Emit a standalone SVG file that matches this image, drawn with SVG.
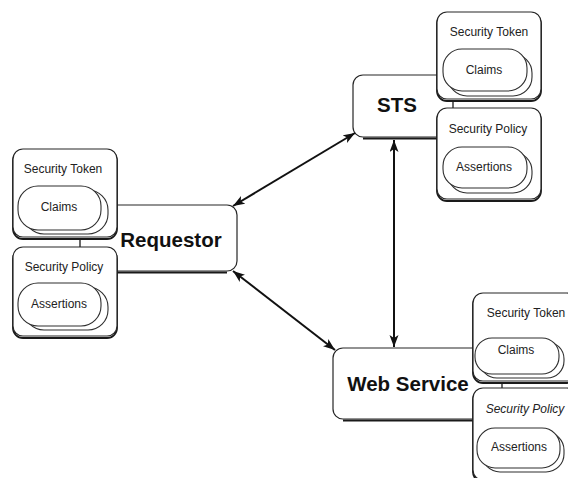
<svg xmlns="http://www.w3.org/2000/svg" width="568" height="478" viewBox="0 0 568 478">
  <style>
    .box { fill: #fff; stroke: #262626; stroke-width: 1.2; }
    .shadow { fill: #fff; stroke: #1a1a1a; stroke-width: 1.8; }
    .pill { fill: #fff; stroke: #2e2e2e; stroke-width: 1.1; }
    .title { font-family: "Liberation Sans", Arial, sans-serif; font-weight: bold; font-size: 20.5px; fill: #111; text-anchor: middle; }
    .label { font-family: "Liberation Sans", Arial, sans-serif; font-size: 12px; fill: #222; text-anchor: middle; }
    .tie { stroke: #1a1a1a; stroke-width: 1.3; fill: none; }
    .link { stroke: #111; stroke-width: 2; fill: none; marker-start: url(#head); marker-end: url(#head); }
  </style>
  <defs>
    <marker id="head" markerUnits="userSpaceOnUse" markerWidth="13" markerHeight="10" refX="12" refY="4.5" orient="auto-start-reverse">
      <path d="M0,0 L12,4.5 L0,9 L3,4.5 z" fill="#111"/>
    </marker>
  </defs>
  <rect width="568" height="478" fill="#fff"/>

  <!-- main actors (sides that sit under the attached boxes are left open) -->
  <g id="requestor">
    <path class="shadow" d="M117,272.5 H227"/>
    <path class="box" d="M117,205 H227 A10,10 0 0 1 237,215 V261 A10,10 0 0 1 227,271 H117"/>
    <text class="title" x="171" y="247">Requestor</text>
  </g>
  <g id="sts">
    <path class="shadow" d="M363,138.5 H441"/>
    <path class="box" d="M441,75 H363 A10,10 0 0 0 353,85 V127 A10,10 0 0 0 363,137 H441"/>
    <text class="title" x="397" y="112">STS</text>
  </g>
  <g id="web-service">
    <path class="shadow" d="M343,420.5 H475"/>
    <path class="box" d="M475,348 H343 A10,10 0 0 0 333,358 V409 A10,10 0 0 0 343,419 H475"/>
    <text class="title" x="408" y="391">Web Service</text>
  </g>

  <!-- requestor token and policy -->
  <g id="requestor-token">
    <line class="tie" x1="80" y1="238" x2="80" y2="247"/>
    <rect class="shadow" x="13" y="151" width="104" height="88" rx="10"/>
    <rect class="box" x="13" y="149" width="104" height="88" rx="10"/>
    <text class="label" x="63" y="173">Security Token</text>
    <rect class="pill" x="24" y="190" width="84" height="44" rx="20"/>
    <rect class="pill" x="18" y="186" width="83" height="44" rx="20"/>
    <text class="label" x="59" y="211">Claims</text>
  </g>
  <g id="requestor-policy">
    <rect class="shadow" x="13" y="249" width="104" height="89" rx="10"/>
    <rect class="box" x="13" y="247" width="104" height="89" rx="10"/>
    <text class="label" x="64" y="271">Security Policy</text>
    <rect class="pill" x="24" y="287" width="84" height="43" rx="20"/>
    <rect class="pill" x="18" y="283" width="83" height="43" rx="20"/>
    <text class="label" x="59" y="308">Assertions</text>
  </g>

  <!-- sts token and policy -->
  <g id="sts-token">
    <line class="tie" x1="453" y1="100" x2="453" y2="108"/>
    <rect class="shadow" x="437" y="14" width="104" height="87" rx="10"/>
    <rect class="box" x="437" y="12" width="104" height="87" rx="10"/>
    <text class="label" x="489" y="36">Security Token</text>
    <rect class="pill" x="448" y="54" width="84" height="42" rx="19"/>
    <rect class="pill" x="443" y="49" width="84" height="42" rx="19"/>
    <text class="label" x="484" y="74">Claims</text>
  </g>
  <g id="sts-policy">
    <rect class="shadow" x="437" y="110" width="104" height="91" rx="10"/>
    <rect class="box" x="437" y="108" width="104" height="91" rx="10"/>
    <text class="label" x="488" y="133">Security Policy</text>
    <rect class="pill" x="448" y="152" width="84" height="41" rx="19"/>
    <rect class="pill" x="443" y="147" width="84" height="41" rx="19"/>
    <text class="label" x="484" y="171">Assertions</text>
  </g>

  <!-- web service token and policy -->
  <g id="ws-token">
    <line class="tie" x1="502" y1="382" x2="502" y2="388"/>
    <rect class="shadow" x="473" y="295" width="104" height="88" rx="10"/>
    <rect class="box" x="473" y="293" width="104" height="88" rx="10"/>
    <text class="label" x="526" y="317">Security Token</text>
    <rect class="pill" x="480" y="342" width="84" height="36" rx="17"/>
    <rect class="pill" x="475" y="338" width="84" height="36" rx="17"/>
    <text class="label" x="516" y="354">Claims</text>
  </g>
  <g id="ws-policy">
    <rect class="shadow" x="473" y="390" width="104" height="92" rx="10"/>
    <rect class="box" x="473" y="388" width="104" height="92" rx="10"/>
    <text class="label" x="525" y="413" font-style="italic">Security Policy</text>
    <rect class="pill" x="482" y="432" width="82" height="40" rx="18"/>
    <rect class="pill" x="477" y="428" width="83" height="40" rx="18"/>
    <text class="label" x="519" y="451">Assertions</text>
  </g>

  <!-- message flows -->
  <g id="connectors">
    <line class="link" x1="233" y1="206" x2="355" y2="133"/>
    <line class="link" x1="233" y1="271" x2="335" y2="350"/>
    <line class="link" x1="394" y1="140" x2="394" y2="347"/>
  </g>
</svg>
